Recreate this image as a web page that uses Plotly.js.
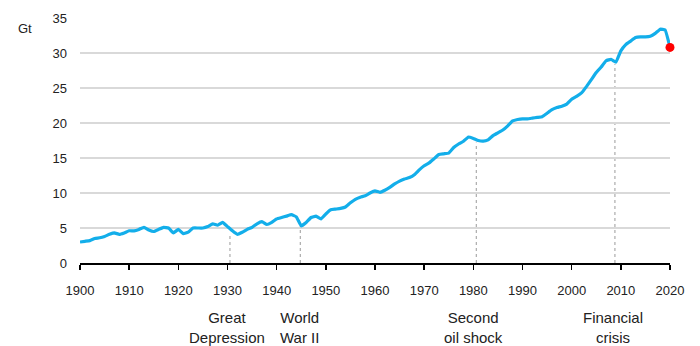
<!DOCTYPE html>
<html>
<head>
<meta charset="utf-8">
<script src="https://cdn.plot.ly/plotly-3.0.1.min.js"></script>
<style>html,body{margin:0;padding:0;background:#fff;}#chart{width:700px;height:346px;}</style>
</head>
<body>
<div id="chart"></div>
<script>
const years = [1900,1901,1902,1903,1904,1905,1906,1907,1908,1909,
1910,1911,1912,1913,1914,1915,1916,1917,1918,1919,
1920,1921,1922,1923,1924,1925,1926,1927,1928,1929,
1930,1931,1932,1933,1934,1935,1936,1937,1938,1939,
1940,1941,1942,1943,1944,1945,1946,1947,1948,1949,
1950,1951,1952,1953,1954,1955,1956,1957,1958,1959,
1960,1961,1962,1963,1964,1965,1966,1967,1968,1969,
1970,1971,1972,1973,1974,1975,1976,1977,1978,1979,
1980,1981,1982,1983,1984,1985,1986,1987,1988,1989,
1990,1991,1992,1993,1994,1995,1996,1997,1998,1999,
2000,2001,2002,2003,2004,2005,2006,2007,2008,2009,
2010,2011,2012,2013,2014,2015,2016,2017,2018,2019,2020];
const emissions = [3.0,3.1,3.2,3.5,3.6,3.8,4.1,4.3,4.1,4.3,
4.6,4.6,4.8,5.1,4.7,4.5,4.8,5.1,5.0,4.3,
4.8,4.2,4.4,5.0,5.0,5.0,5.2,5.6,5.4,5.8,
5.2,4.6,4.1,4.4,4.8,5.1,5.6,5.9,5.5,5.8,
6.3,6.5,6.7,6.9,6.6,5.3,5.8,6.5,6.7,6.3,
7.0,7.6,7.7,7.8,8.0,8.6,9.1,9.4,9.6,10.0,
10.3,10.1,10.4,10.8,11.3,11.7,12.0,12.2,12.6,13.3,
13.9,14.3,14.9,15.5,15.6,15.7,16.5,17.0,17.4,18.0,
17.8,17.5,17.4,17.6,18.2,18.6,19.0,19.6,20.3,20.5,
20.6,20.6,20.7,20.8,20.9,21.4,21.9,22.2,22.4,22.7,
23.4,23.8,24.3,25.2,26.2,27.2,28.0,28.9,29.1,28.7,
30.3,31.2,31.7,32.2,32.3,32.3,32.4,32.8,33.4,33.3,30.8];
const latestYear = [2020];
const latestValue = [30.8];

const eventNames = ["Great<br>Depression","World<br>War II","Second<br>oil shock","Financial<br>crisis"];
const eventYears = [1930.5,1944.8,1980.6,2008.8];
const eventTops = [4.0,5.3,17.2,28.4];
const eventLabelX = [1929.8,1944.7,1980.0,2008.4];

const xTicks = [1900,1910,1920,1930,1940,1950,1960,1970,1980,1990,2000,2010,2020];
const yTicks = [0,5,10,15,20,25,30,35];

const font = {family:"Liberation Sans, Arial, sans-serif", size:13, color:"#222"};
const noteFont = {family:"Liberation Sans, Arial, sans-serif", size:15, color:"#222"};

const traces = [
  {x: years, y: emissions, type:"scatter", mode:"lines",
   line:{color:"#13AEEA", width:3.2, shape:"spline", smoothing:0.3}, hoverinfo:"skip", cliponaxis:false},
  {x: latestYear, y: latestValue, type:"scatter", mode:"markers",
   marker:{color:"#FF0000", size:9}, cliponaxis:false, hoverinfo:"skip"}
];

const shapes = eventYears.map((yr,i)=>({
  type:"line", xref:"x", yref:"y", x0:yr, x1:yr, y0:0, y1:eventTops[i],
  line:{color:"#9a9a9a", width:1, dash:"dot"}, layer:"below"
}));

const annotations = eventNames.map((t,i)=>({
  text:t, xref:"x", yref:"paper", x:eventLabelX[i], y:-0.265,
  xanchor:"center", yanchor:"middle", showarrow:false, font:noteFont, align:"center"
}));
annotations.push({text:"Gt", xref:"paper", yref:"paper", x:-0.094, y:0.959,
  xanchor:"center", yanchor:"middle", showarrow:false, font:font});

const layout = {
  width:700, height:346,
  margin:{l:80, r:30, t:18, b:83, pad:0},
  paper_bgcolor:"#fff", plot_bgcolor:"#fff",
  showlegend:false,
  font:font,
  xaxis:{range:[1900,2020], tickvals:xTicks, ticktext:xTicks.map(String),
    showgrid:false, zeroline:false, showline:true, linecolor:"#000", linewidth:1.5,
    ticks:"outside", ticklen:5, tickwidth:1.5, tickcolor:"#000",
    ticklabelstandoff:10, tickfont:font, fixedrange:true},
  yaxis:{range:[0,35], tickvals:yTicks, ticktext:yTicks.map(String),
    showgrid:true, gridcolor:"#d9d9d9", gridwidth:1.5, zeroline:false, showline:false,
    ticks:"", ticklabelstandoff:12, tickfont:font, fixedrange:true},
  shapes:shapes,
  annotations:annotations
};

Plotly.newPlot("chart", traces, layout, {displayModeBar:false, staticPlot:true});
</script>
</body>
</html>
